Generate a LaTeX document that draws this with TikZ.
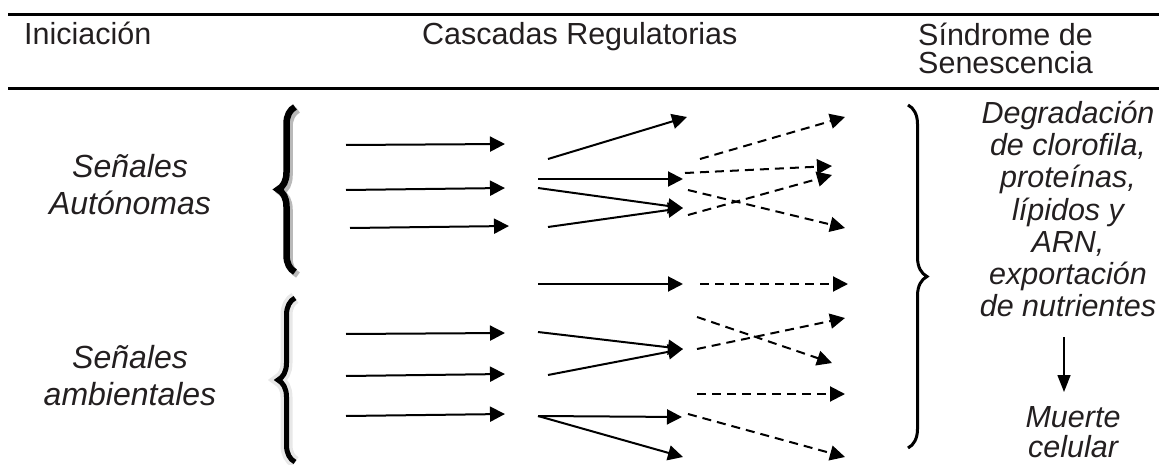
\documentclass[tikz,border=0pt]{standalone}
\usepackage{fontspec}
\setmainfont{Liberation Sans}
\usetikzlibrary{arrows.meta,decorations.pathreplacing}
\definecolor{txtgray}{RGB}{35,31,32}

\begin{document}
\begin{tikzpicture}[x=1pt,y=-1pt]
\tikzstyle{every node}+=[inner sep=0pt,text=txtgray]
\tikzstyle{regla}=[line width=3pt]
\tikzstyle{flecha}=[line width=2pt,-{Triangle[length=15pt,width=15pt]}]
\tikzstyle{flechap}=[flecha,dash pattern=on 9pt off 6pt]
\tikzstyle{cabecera}=[font=\fontsize{30.5}{28}\selectfont,align=left]
\tikzstyle{cursiva}=[font=\fontsize{32}{37}\selectfont\itshape,align=center]
\tikzstyle{llave}=[decorate,decoration={brace,amplitude=17pt}]
\useasboundingbox (0,0) rectangle (1159,465);
\draw [regla] (8,15) -- (1159,15);
\draw [regla] (8,89) -- (1159,89);
\node [cabecera,anchor=base west] (inic) at (24,45) {Iniciación};
\node [cabecera,anchor=base west] (casc) at (422,45) {Cascadas Regulatorias};
\node [cabecera,anchor=west] (sind) at (918,48) {Síndrome de\\Senescencia};
\node [cursiva] (senA) at (130,185) {Señales\\Autónomas};
\node [cursiva] (senB) at (130,376) {Señales\\ambientales};
\node [cursiva,font=\fontsize{30.5}{32.3}\selectfont\itshape] (degr) at (1068,209)
  {Degradación\\de clorofila,\\proteínas,\\lípidos y\\ARN,\\exportación\\de nutrientes};
\node [cursiva,font=\fontsize{30.5}{30}\selectfont\itshape] (muerte) at (1073,432) {Muerte\\celular};
\draw [llave,gray!55,line width=6.5pt,shift={(3,3)}] (295,272) -- (295,107);
\draw [llave,black,line width=6.5pt] (295,272) -- (295,107);
\draw [llave,gray!18,line width=12pt] (295,462) -- (295,298);
\draw [llave,black,line width=5pt] (295,462) -- (295,298);
\draw [decorate,decoration={brace,amplitude=19pt},line width=3pt] (908,105) -- (908,448);
\coordinate (s1) at (346,145); \coordinate (t1) at (505,144);
\coordinate (s2) at (346,190); \coordinate (t2) at (505,188);
\coordinate (s3) at (350,228); \coordinate (t3) at (509,226);
\coordinate (s4) at (346,334); \coordinate (t4) at (505,333);
\coordinate (s5) at (346,376); \coordinate (t5) at (505,374);
\coordinate (s6) at (346,416); \coordinate (t6) at (505,414);
\draw [flecha] (s1) -- (t1);
\draw [flecha] (s2) -- (t2);
\draw [flecha] (s3) -- (t3);
\draw [flecha] (s4) -- (t4);
\draw [flecha] (s5) -- (t5);
\draw [flecha] (s6) -- (t6);
\coordinate (u1) at (548,159); \coordinate (v1) at (687,117);
\coordinate (u2) at (538,179); \coordinate (v2) at (683,179);
\coordinate (u3) at (538,188); \coordinate (v3) at (683,208);
\coordinate (u4) at (548,227);
\coordinate (u5) at (538,284); \coordinate (v5) at (683,284);
\coordinate (u6) at (538,332); \coordinate (v6) at (683,349);
\coordinate (u7) at (548,375);
\coordinate (u8) at (538,416); \coordinate (v8) at (682,417);
\coordinate (v9) at (683,457);
\draw [flecha] (u1) -- (v1);
\draw [flecha] (u2) -- (v2);
\draw [flecha] (u3) -- (v3);
\draw [flecha] (u4) -- (v3);
\draw [flecha] (u5) -- (v5);
\draw [flecha] (u6) -- (v6);
\draw [flecha] (u7) -- (v6);
\draw [flecha] (u8) -- (v8);
\draw [flecha] (u8) -- (v9);
\coordinate (d1) at (700,159); \coordinate (e1) at (845,117);
\coordinate (d2) at (685,173); \coordinate (e2) at (832,166);
\coordinate (d3) at (688,190); \coordinate (e3) at (845,228);
\coordinate (d4) at (688,215); \coordinate (e4) at (832,175);
\coordinate (d5) at (700,284); \coordinate (e5) at (848,284);
\coordinate (d6) at (697,317); \coordinate (e6) at (832,363);
\coordinate (d7) at (697,349); \coordinate (e7) at (845,318);
\coordinate (d8) at (697,394); \coordinate (e8) at (845,394);
\coordinate (d9) at (688,414); \coordinate (e9) at (845,457);
\draw [flechap] (d1) -- (e1);
\draw [flechap] (d2) -- (e2);
\draw [flechap] (d3) -- (e3);
\draw [flechap] (d4) -- (e4);
\draw [flechap] (d5) -- (e5);
\draw [flechap] (d6) -- (e6);
\draw [flechap] (d7) -- (e7);
\draw [flechap] (d8) -- (e8);
\draw [flechap] (d9) -- (e9);
\coordinate (m1) at (1064,337); \coordinate (m2) at (1064,392);
\draw [line width=1.5pt,-{Triangle[length=17pt,width=13pt]}] (m1) -- (m2);
\end{tikzpicture}
\end{document}
